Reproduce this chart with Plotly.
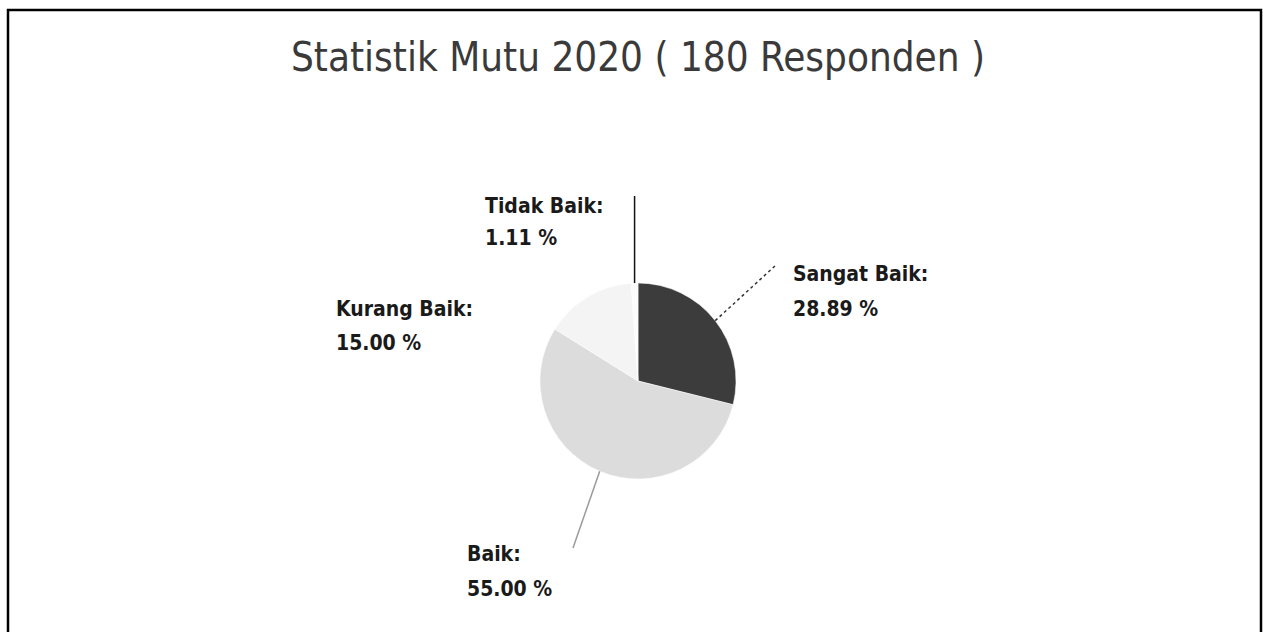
import math
import plotly.graph_objects as go

W, H = 1263, 632

title_text = "Statistik Mutu 2020 ( 180 Responden )"
categories = ["Sangat Baik", "Baik", "Kurang Baik", "Tidak Baik"]
counts = [52, 99, 27, 2]
colors = ["#3c3c3c", "#dcdcdc", "#f4f4f4", "#fcfcfc"]

total = sum(counts)
pcts = [c / total * 100 for c in counts]

# layout geometry (pixels)
CX, CY, R = 638, 381, 98
# label placement: (left x, line1 center y, line2 center y, leader end x, leader end y)
label_pos = {
    "Sangat Baik": (791, 274, 309, 776, 265),
    "Tidak Baik": (483, 206, 238, None, 196),
    "Kurang Baik": (334, 309, 343, None, None),
    "Baik": (465, 554, 589, 573, 548),
}
leader_style = {
    "Sangat Baik": dict(color="#333333", width=1.5, dash="dot"),
    "Tidak Baik": dict(color="#111111", width=1.5),
    "Kurang Baik": dict(color="#888888", width=1.2),
    "Baik": dict(color="#9a9a9a", width=1.5),
}
FONT = "Liberation Sans Narrow, DejaVu Sans Condensed, Arial Narrow, Arial, sans-serif"

def px(x):
    return x / W

def py(y):
    return 1 - y / H

fig = go.Figure(go.Pie(
    labels=categories,
    values=counts,
    sort=False,
    direction="clockwise",
    rotation=0,
    marker=dict(colors=colors, line=dict(color="#ffffff", width=0.5)),
    textinfo="none",
    hoverinfo="label+percent",
    domain=dict(x=[px(CX - R), px(CX + R)], y=[py(CY + R), py(CY - R)]),
    showlegend=False,
))

annotations = []
shapes = []
start = 0.0
for cat, p in zip(categories, pcts):
    ang = (start + p / 2) / 100 * 2 * math.pi
    start += p
    tx = CX + R * math.sin(ang)
    ty = CY - R * math.cos(ang)
    lx, y1, y2, ex, ey = label_pos[cat]
    fnt = dict(family=FONT, size=21, color="#1a1a1a")
    annotations.append(dict(x=px(lx), y=py(y1), xref="paper", yref="paper", text=f"<b>{cat}:</b>",
                            showarrow=False, xanchor="left", yanchor="middle", font=fnt))
    annotations.append(dict(x=px(lx), y=py(y2), xref="paper", yref="paper", text=f"<b>{p:.2f} %</b>",
                            showarrow=False, xanchor="left", yanchor="middle", font=fnt))
    if ey is not None:
        if ex is None:
            ex = tx
        shapes.append(dict(type="line", xref="paper", yref="paper",
                           x0=px(tx), y0=py(ty), x1=px(ex), y1=py(ey), line=leader_style[cat]))

# frame border
shapes.append(dict(type="rect", xref="paper", yref="paper",
                   x0=px(8), x1=px(1261), y0=-0.2, y1=py(10),
                   line=dict(color="#000000", width=2.5), fillcolor="rgba(0,0,0,0)"))

annotations.append(dict(x=px(CX), y=py(57), xref="paper", yref="paper", text=title_text,
                        showarrow=False, xanchor="center", yanchor="middle",
                        font=dict(family=FONT, size=40, color="#3a3a3a")))

fig.update_layout(
    width=W, height=H,
    margin=dict(l=0, r=0, t=0, b=0),
    paper_bgcolor="#ffffff",
    plot_bgcolor="#ffffff",
    annotations=annotations,
    shapes=shapes,
)

fig.write_html("out.html", config={"displayModeBar": False},
               post_script="document.body.style.margin='0';document.body.style.overflow='hidden';")
